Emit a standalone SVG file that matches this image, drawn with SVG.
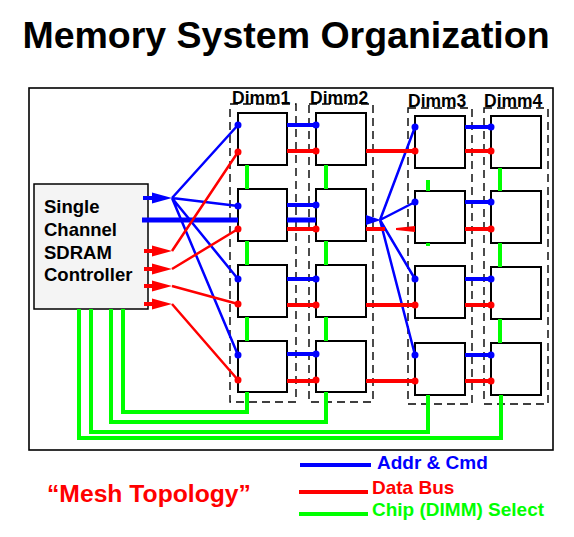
<svg xmlns="http://www.w3.org/2000/svg" xmlns:xlink="http://www.w3.org/1999/xlink" width="574" height="537" viewBox="0 0 574 537">
<style>
text{font-family:"Liberation Sans",Arial,sans-serif;font-weight:bold}
.chip{fill:#fff;stroke:#000;stroke-width:2}
.dash{fill:none;stroke:#000;stroke-width:1.4;stroke-dasharray:8,5}
.b{stroke:#0000ff;fill:none}
.r{stroke:#ff0000;fill:none}
.g{stroke:#00ff00;fill:none;stroke-width:4}
.fan{stroke-width:2.5}
.bus{stroke-width:4}
.bd{fill:#0000ff}
.rd{fill:#ff0000}
.dl{font-size:17.5px;fill:#000}
</style>
<defs>
<path id="ah" d="M0,-5.5 L20,0 L0,5.5 Z"/>
</defs>
<rect width="574" height="537" fill="#fff"/>
<text x="286" y="48" font-size="37.5" text-anchor="middle" fill="#000">Memory System Organization</text>
<rect x="29" y="88" width="524" height="362" fill="none" stroke="#000" stroke-width="1.6"/>

<g id="dimm1">
<rect class="dash" x="230" y="104" width="66" height="298"/>
<text class="dl" x="232" y="104">Dimm1</text>
<rect class="chip" x="238" y="113" width="49" height="52"/>
<rect class="chip" x="238" y="189" width="49" height="52"/>
<rect class="chip" x="238" y="265" width="49" height="52"/>
<rect class="chip" x="238" y="341" width="49" height="51"/>
</g>
<g id="dimm2">
<rect class="dash" x="309" y="104" width="64" height="298"/>
<text class="dl" x="310" y="104">Dimm2</text>
<rect class="chip" x="316" y="113" width="50" height="52"/>
<rect class="chip" x="316" y="189" width="50" height="52"/>
<rect class="chip" x="316" y="265" width="50" height="52"/>
<rect class="chip" x="316" y="341" width="50" height="51"/>
</g>
<g id="dimm3">
<rect class="dash" x="408" y="108" width="64" height="296"/>
<text class="dl" x="408" y="107">Dimm3</text>
<rect class="chip" x="415" y="116" width="50" height="52"/>
<rect class="chip" x="415" y="191" width="50" height="52"/>
<rect class="chip" x="415" y="266" width="50" height="52"/>
<rect class="chip" x="415" y="343" width="50" height="52"/>
</g>
<g id="dimm4">
<rect class="dash" x="484" y="108" width="64" height="296"/>
<text class="dl" x="484" y="107">Dimm4</text>
<rect class="chip" x="491" y="116" width="50" height="52"/>
<rect class="chip" x="491" y="191" width="50" height="52"/>
<rect class="chip" x="491" y="267" width="50" height="52"/>
<rect class="chip" x="491" y="343" width="50" height="52"/>
</g>

<g id="controller">
<rect x="34" y="184" width="114" height="125" fill="#f4f4f4" stroke="#000" stroke-width="1.5"/>
<text x="44" y="213" font-size="18.5" fill="#000">Single</text>
<text x="44" y="236" font-size="18.5" fill="#000">Channel</text>
<text x="44" y="259" font-size="18.5" fill="#000">SDRAM</text>
<text x="44" y="281" font-size="18.5" fill="#000">Controller</text>
</g>

<g id="connectors">
<!-- chip select -->
<path class="g" d="M123,309 V412 H247 V392 M111,309 V422 H326 V392 M91,309 V432 H428 V395 M79,309 V438 H501 V395"/>
<path class="g" d="M247,165 V189 M247,241 V265 M247,317 V341 M326,165 V189 M326,241 V265 M326,317 V341 M500,168 V191 M500,243 V267 M500,319 V343"/>
<path class="g" stroke-width="3" d="M428,180 V191 M428,243 V246"/>
<!-- controller addr fan -->
<path class="b bus" d="M143,198 H154"/>
<use xlink:href="#ah" x="152" y="198" class="bd"/>
<path class="b fan" d="M172,198 L238,125 M172,198 L238,206 M172,198 L238,279 M172,198 L238,355"/>
<path class="b" stroke-width="5" d="M142,220 H238 M287,220 H316 M366,220 H372"/>
<path class="bd" d="M366,215 L381,220 L366,225 Z"/>
<path class="b fan" d="M380,220 L415,127 M380,220 L415,202 M380,220 L415,279 M380,220 L415,355"/>
<!-- controller data -->
<path class="r bus" d="M144,251 H154 M144,269 H154 M144,286 H154 M144,304 H154"/>
<use xlink:href="#ah" x="152" y="251" class="rd"/>
<use xlink:href="#ah" x="152" y="269" class="rd"/>
<use xlink:href="#ah" x="152" y="286" class="rd"/>
<use xlink:href="#ah" x="152" y="304" class="rd"/>
<path class="r fan" d="M172,251 L238,152 M172,269 L238,229 M172,286 L238,304 M172,304 L238,380"/>
<!-- chip to chip buses -->
<path class="b bus" d="M287,125 H316 M287,205 H316 M287,279 H316 M287,354 H316 M465,127 H491 M465,202 H491 M465,279 H491 M465,355 H491"/>
<path class="r bus" d="M287,151 H316 M287,229 H316 M287,305 H316 M287,381 H316 M366,151 H415 M366,229 H385 M366,305 H415 M366,381 H415 M465,151 H491 M465,229 H491 M465,305 H491 M465,381 H491"/>
<path class="rd" d="M396,228 L415,226 L415,232 L396,230 Z"/>
<!-- dots -->
<g class="bd">
<circle cx="238" cy="125" r="3.5"/><circle cx="238" cy="206" r="3.5"/><circle cx="238" cy="279" r="3.5"/><circle cx="238" cy="355" r="3.5"/>
<circle cx="316" cy="125" r="3.5"/><circle cx="316" cy="205" r="3.5"/><circle cx="316" cy="279" r="3.5"/><circle cx="316" cy="354" r="3.5"/>
<circle cx="415" cy="127" r="3.5"/><circle cx="415" cy="202" r="3.5"/><circle cx="415" cy="279" r="3.5"/><circle cx="415" cy="355" r="3.5"/>
<circle cx="491" cy="127" r="3.5"/><circle cx="491" cy="202" r="3.5"/><circle cx="491" cy="279" r="3.5"/><circle cx="491" cy="355" r="3.5"/>
</g>
<g class="rd">
<circle cx="238" cy="152" r="3.5"/><circle cx="238" cy="229" r="3.5"/><circle cx="238" cy="304" r="3.5"/><circle cx="238" cy="380" r="3.5"/>
<circle cx="316" cy="151" r="3.5"/><circle cx="316" cy="229" r="3.5"/><circle cx="316" cy="305" r="3.5"/><circle cx="316" cy="380" r="3.5"/>
<circle cx="415" cy="151" r="3.5"/><circle cx="415" cy="305" r="3.5"/><circle cx="415" cy="381" r="3.5"/>
<circle cx="491" cy="151" r="3.5"/><circle cx="491" cy="229" r="3.5"/><circle cx="491" cy="305" r="3.5"/><circle cx="491" cy="381" r="3.5"/>
</g>
</g>

<g id="legend">
<path class="b" stroke-width="4" d="M300,465 H371"/>
<text x="377" y="469" font-size="19" fill="#0000ff">Addr &amp; Cmd</text>
<path class="r" stroke-width="4" d="M299,492 H368"/>
<text x="372" y="494" font-size="19" fill="#ff0000">Data Bus</text>
<path class="g" d="M299,514 H368"/>
<text x="372" y="516" font-size="19" fill="#00ff00">Chip (DIMM) Select</text>
<text x="47" y="502" font-size="24.7" fill="#ff0000">“Mesh Topology”</text>
</g>
</svg>
